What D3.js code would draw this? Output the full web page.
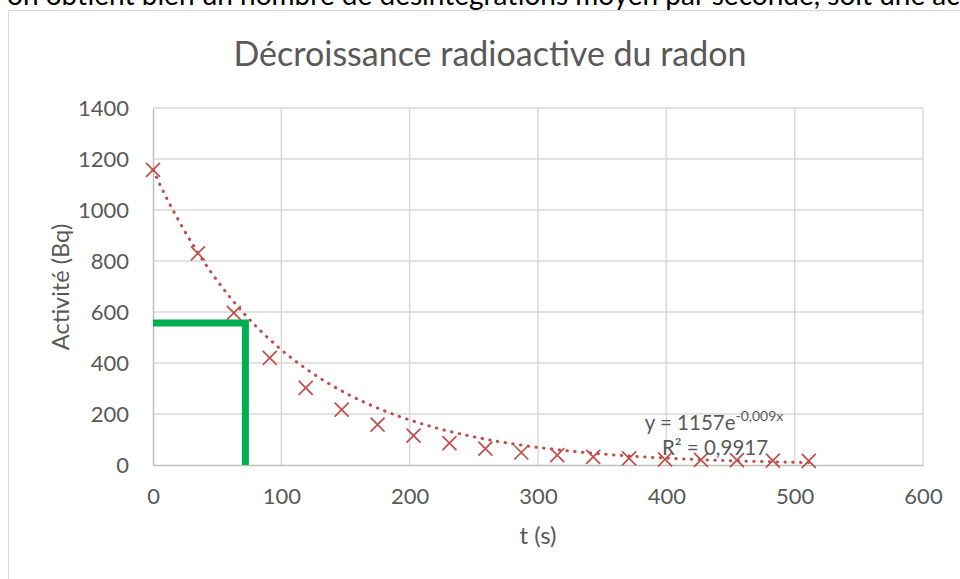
<!DOCTYPE html>
<html>
<head>
    <meta charset="utf-8">
    <style>
        body { margin: 0; background: #fff; overflow: hidden; }
        text { font-family: Lato, "Open Sans", sans-serif; }
    </style>
</head>
<body>
    <svg id="chart" width="960" height="579"></svg>
    <script src="https://d3js.org/d3.v7.min.js" charset="utf-8"></script>
    <script>
        // values
        const times = [0, 35, 63, 91, 119, 147, 175, 203, 231, 259, 287, 315, 343, 371, 399, 427, 455, 483, 511]
        const activity = [1157, 830, 597, 420, 302, 217, 158, 115, 86, 64, 49, 39, 32, 26, 22, 20, 19, 17, 16]
        const xTicks = [0, 100, 200, 300, 400, 500, 600]
        const yTicks = [0, 200, 400, 600, 800, 1000, 1200, 1400]

        // exponential trendline y = A e^(-k t) (label shows k rounded to 0,009)
        const trendA = 1157
        const trendK = 0.0094
        const trendLabel = ["y = 1157e", "-0,009x", "R² = 0,9917"]

        // half-life construction (green)
        const halfLife = [72, 557]

        const grey = "#595959"
        const red = "#C0504D"

        let svg = d3.select("#chart")

        // text of the page above the chart, cut off by the frame
        svg.append("text")
            .attr("x", 7)
            .attr("y", 5)
            .style("font-size", "28px")
            .style("fill", "#000")
            .text("on obtient bien un nombre de désintégrations moyen par seconde, soit une activité")

        // chart frame
        svg.append("rect")
            .attr("x", 8.5).attr("y", 10.5)
            .attr("width", 1000).attr("height", 700)
            .style("fill", "#fff")
            .style("stroke", "#D9D9D9")

        let x = d3.scaleLinear().domain([0, 600]).range([153, 923])
        let y = d3.scaleLinear().domain([0, 1400]).range([465, 108])

        // gridlines
        svg.append("g")
            .selectAll("line.h").data(yTicks.slice(1)).enter()
            .append("line")
            .attr("x1", x(0)).attr("x2", x(600))
            .attr("y1", d => y(d)).attr("y2", d => y(d))
            .style("stroke", "#D9D9D9").style("stroke-width", 1.5)
        svg.append("g")
            .selectAll("line.v").data(xTicks.slice(1)).enter()
            .append("line")
            .attr("x1", d => x(d)).attr("x2", d => x(d))
            .attr("y1", y(0)).attr("y2", y(1400))
            .style("stroke", "#D9D9D9").style("stroke-width", 1.5)

        // axes
        let xAxis = d3.axisBottom(x).tickValues(xTicks).tickFormat(d3.format("d")).tickSize(0).tickPadding(23)
        let gx = svg.append("g")
            .attr("transform", `translate(0,${y(0)})`)
            .call(xAxis)
        let yAxis = d3.axisLeft(y).tickValues(yTicks).tickFormat(d3.format("d")).tickSize(0).tickPadding(24)
        let gy = svg.append("g")
            .attr("transform", `translate(${x(0)},0)`)
            .call(yAxis)

        for (let g of [gx, gy]) {
            g.select(".domain").style("stroke", "#BFBFBF").style("stroke-width", 1.5)
            g.selectAll("text")
                .style("font-family", "Lato, sans-serif")
                .style("font-size", "22px")
                .style("fill", grey)
        }

        // titles
        svg.append("text")
            .attr("x", 490).attr("y", 66)
            .attr("text-anchor", "middle")
            .style("font-size", "34px")
            .style("fill", grey)
            .text("Décroissance radioactive du radon")

        svg.append("text")
            .attr("transform", "translate(69,287) rotate(-90)")
            .attr("text-anchor", "middle")
            .style("font-size", "23.5px")
            .style("fill", grey)
            .text("Activité (Bq)")

        svg.append("text")
            .attr("x", 538).attr("y", 544)
            .attr("text-anchor", "middle")
            .style("font-size", "24px")
            .style("fill", grey)
            .text("t (s)")

        // green half-life lines
        svg.append("path")
            .attr("d", d3.line()([
                [x(0), y(halfLife[1])],
                [x(halfLife[0]), y(halfLife[1])],
                [x(halfLife[0]), y(0)]
            ]))
            .style("fill", "none")
            .style("stroke", "#00B050")
            .style("stroke-width", 7)
            .style("stroke-linejoin", "miter")

        // dotted trendline
        let tMax = d3.max(times)
        let trend = d3.range(0, tMax + 1, 1).map(t => [t, trendA * Math.exp(-trendK * t)])
        svg.append("path")
            .attr("d", d3.line().x(d => x(d[0])).y(d => y(d[1]))(trend))
            .style("fill", "none")
            .style("stroke", red)
            .style("stroke-width", 3)
            .style("stroke-linecap", "round")
            .style("stroke-dasharray", "0.5 7.3")

        // markers
        svg.append("g")
            .selectAll("path").data(times).enter()
            .append("path")
            .attr("transform", (d, i) => `translate(${x(d)},${y(activity[i])})`)
            .attr("d", "M-7,-7L7,7M-7,7L7,-7")
            .style("stroke", red)
            .style("stroke-width", 1.75)

        // trendline label
        let eq = svg.append("text")
            .attr("x", 714).attr("y", 430)
            .attr("text-anchor", "middle")
            .style("font-size", "20.5px")
            .style("fill", grey)
        eq.append("tspan").text(trendLabel[0])
        eq.append("tspan")
            .attr("dy", -9)
            .style("font-size", "14px")
            .text(trendLabel[1])
        svg.append("text")
            .attr("x", 715).attr("y", 455)
            .attr("text-anchor", "middle")
            .style("font-size", "20.5px")
            .style("fill", grey)
            .text(trendLabel[2])
    </script>
</body>
</html>
